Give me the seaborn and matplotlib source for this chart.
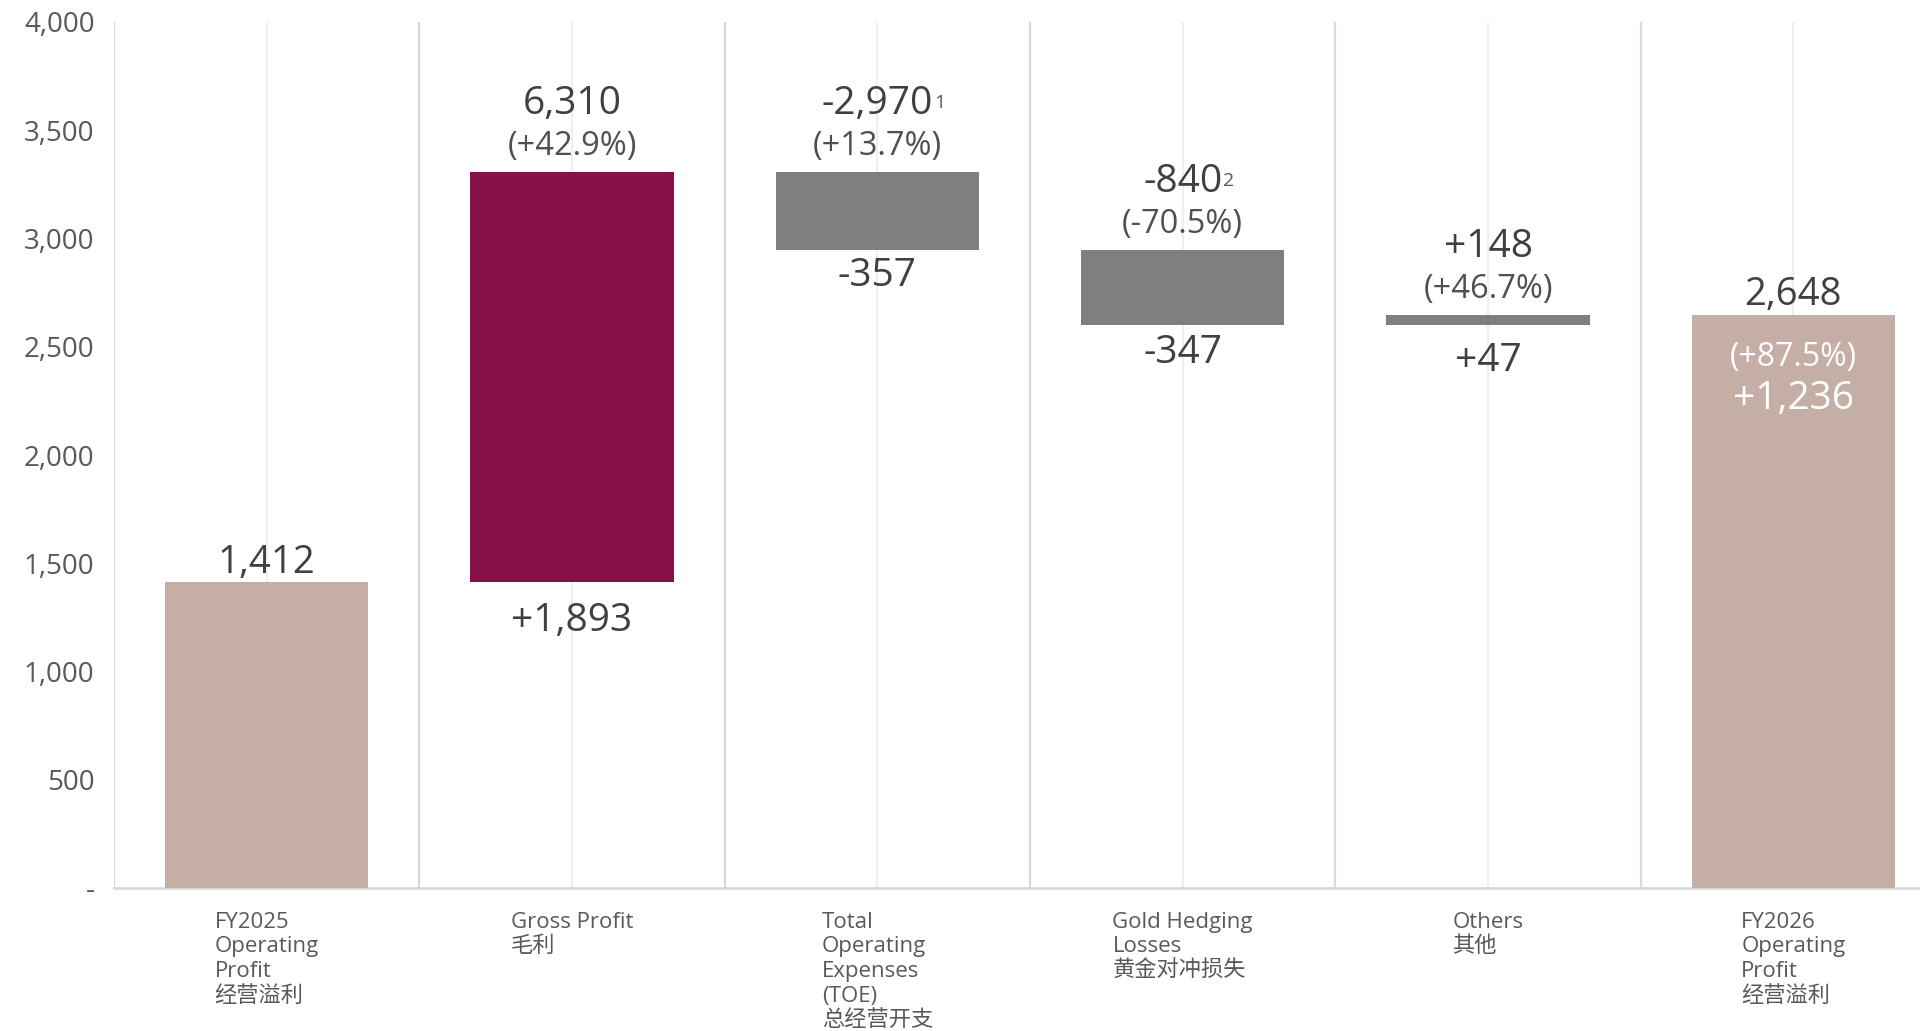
import numpy as np
import pandas as pd
import seaborn as sns
import matplotlib.pyplot as plt
from matplotlib.ticker import FuncFormatter

# Chart data
categories = ['FY2025\nOperating\nProfit\n经营溢利',
              'Gross Profit\n毛利',
              'Total\nOperating\nExpenses\n(TOE)\n总经营开支',
              'Gold Hedging\nLosses\n黄金对冲损失',
              'Others\n其他',
              'FY2026\nOperating\nProfit\n经营溢利']
values = [1412, 1893, -357, -347, 47, 2648]
is_total = [True, False, False, False, False, True]
value_labels = ['1,412', '+1,893', '-357', '-347', '+47', '2,648']
headline = [None, '6,310', '-2,970', '-840', '+148', None]
footnote = [None, None, '1', '2', None, None]
pct_labels = [None, '(+42.9%)', '(+13.7%)', '(-70.5%)', '(+46.7%)', '(+87.5%)']
total_change = '+1,236'
bar_colors = ['#c4aea6', '#861047', '#7f7f7f', '#7f7f7f', '#7f7f7f', '#c4aea6']

# Waterfall bottoms / heights
bottoms, heights = [], []
running = 0
for v, tot in zip(values, is_total):
    if tot:
        bottoms.append(0)
        heights.append(v)
        running = v
    else:
        bottoms.append(running + min(v, 0))
        heights.append(abs(v))
        running += v

df = pd.DataFrame({'category': categories, 'height': heights})

sns.set_style('white')
plt.rcParams['font.family'] = ['Open Sans', 'Noto Sans CJK SC']

fig = plt.figure(figsize=(19.2, 10.31), dpi=100)
ax = fig.add_axes([114 / 1920, 143 / 1031, 1832 / 1920, 866 / 1031])

sns.barplot(data=df, x='category', y='height', bottom=bottoms, width=0.667,
            errorbar=None, color='#7f7f7f', linewidth=0, ax=ax, zorder=3)
for patch, c in zip(ax.patches, bar_colors):
    patch.set_facecolor(c)
    patch.set_edgecolor(c)

ax.set_xlim(-0.5, 5.5)
ax.set_ylim(0, 4000)
ax.set_xlabel('')
ax.set_ylabel('')

# vertical gridlines: category separators and lighter centre lines
for xb in np.arange(-0.5, 6.0, 1.0):
    ax.axvline(xb, color='#d9d9d9', lw=1.6, zorder=0)
for xc in range(6):
    ax.axvline(xc, color='#efefef', lw=1.6, zorder=0)

for s in ['top', 'right', 'left']:
    ax.spines[s].set_visible(False)
ax.spines['bottom'].set_color('#d9d9d9')
ax.spines['bottom'].set_linewidth(2)

ax.set_yticks(np.arange(0, 4001, 500))
ax.yaxis.set_major_formatter(FuncFormatter(lambda v, p: '-' if v == 0 else f'{int(v):,}'))
ax.tick_params(axis='y', length=0, pad=14, labelsize=20, labelcolor='#595959')
ax.tick_params(axis='x', length=0, pad=17, labelsize=16, labelcolor='#595959')
for lab in ax.get_xticklabels():
    lab.set_multialignment('left')
    lab.set_linespacing(1.23)

dark = '#404040'
below_offsets = [0, -28, -19, -20, -26, 0]
head_texts = {}
for i in range(6):
    top = bottoms[i] + heights[i]
    bot = bottoms[i]
    if is_total[i]:
        ax.annotate(value_labels[i], xy=(i, top), xytext=(0, 14), textcoords='offset points',
                    ha='center', va='center', fontsize=27.5, color=dark)
        if pct_labels[i]:
            ax.annotate(pct_labels[i], xy=(i, top), xytext=(0, -31), textcoords='offset points',
                        ha='center', va='center', fontsize=23, color='white')
            ax.annotate(total_change, xy=(i, top), xytext=(0, -61), textcoords='offset points',
                        ha='center', va='center', fontsize=28, color='white')
    else:
        head_texts[i] = ax.annotate(headline[i], xy=(i, top), xytext=(0, 49), textcoords='offset points',
                                    ha='center', va='center', fontsize=28, fontweight='medium', color=dark)
        ax.annotate(pct_labels[i], xy=(i, top), xytext=(0, 18.5), textcoords='offset points',
                    ha='center', va='center', fontsize=23.5, color='#505050')
        ax.annotate(value_labels[i], xy=(i, bot), xytext=(0, below_offsets[i]), textcoords='offset points',
                    ha='center', va='center', fontsize=28, color=dark)

# superscript footnote markers next to headline numbers
fig.canvas.draw()
renderer = fig.canvas.get_renderer()
for i, t in head_texts.items():
    if footnote[i]:
        bb = t.get_window_extent(renderer)
        fig.text(bb.x1 + 1, bb.y1 - 9, footnote[i], transform=None,
                 ha='left', va='top', fontsize=14, color='#595959')

fig.savefig('out.png', dpi=100)
